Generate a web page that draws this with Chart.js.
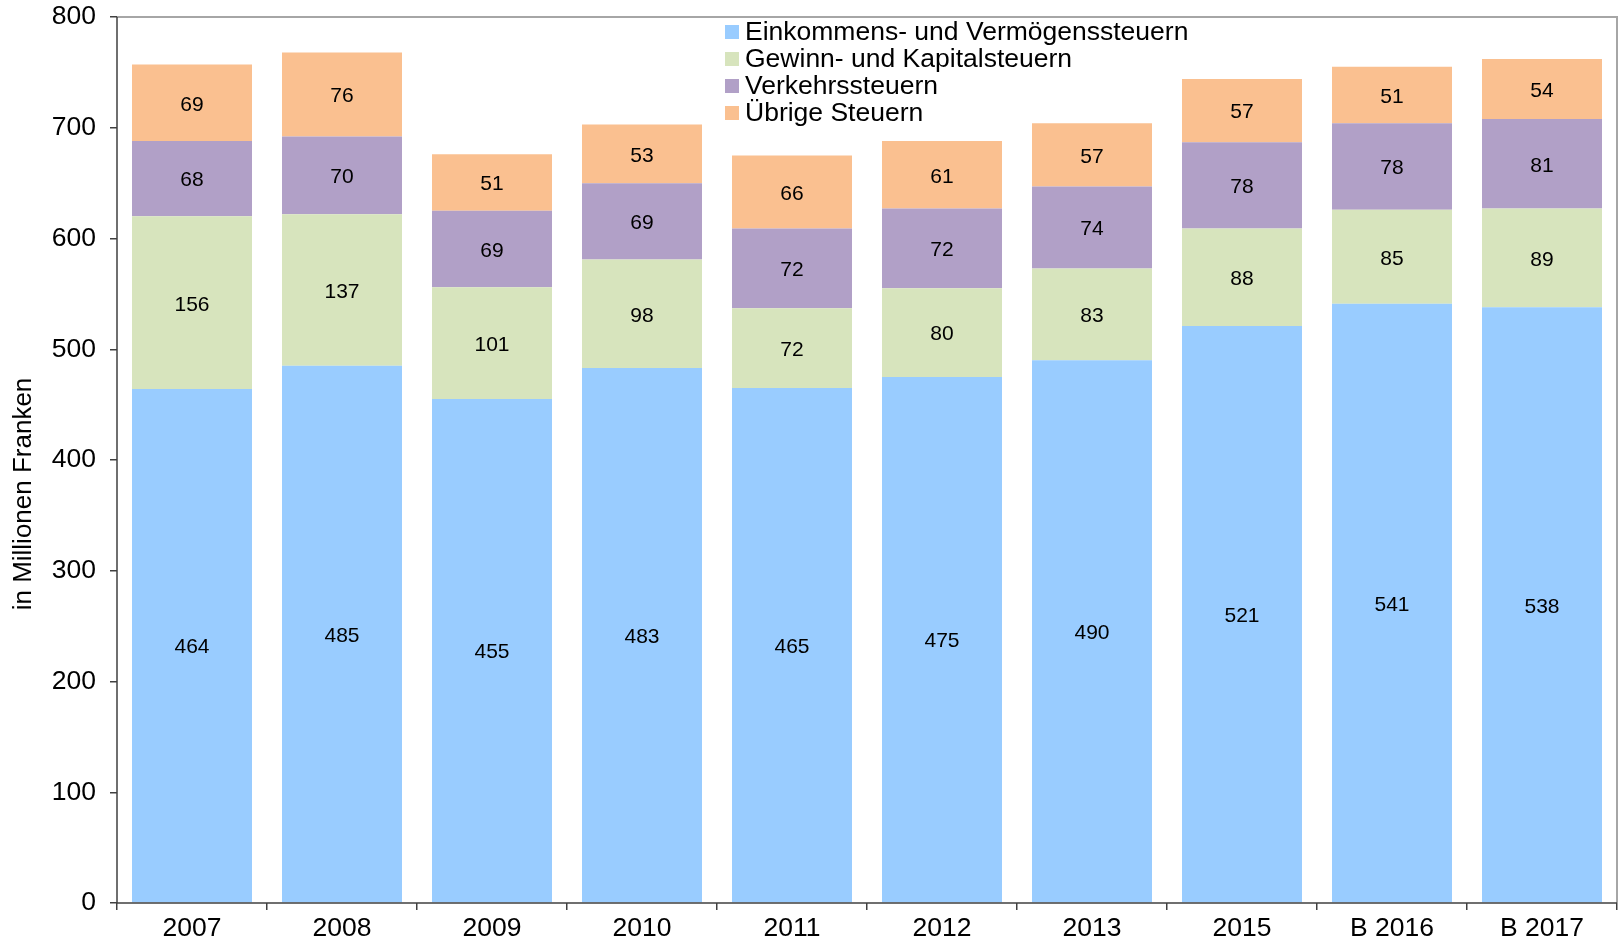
<!DOCTYPE html>
<html>
<head>
<meta charset="utf-8">
<script src="https://cdn.jsdelivr.net/npm/chart.js@4.4.1/dist/chart.umd.min.js"></script>
<style>
html,body{margin:0;padding:0;background:#fff;}
#wrap{width:1619px;height:939px;position:relative;}
</style>
</head>
<body>
<div id="wrap"><canvas id="c" width="1619" height="939"></canvas></div>
<script>
const categories = ['2007','2008','2009','2010','2011','2012','2013','2015','B 2016','B 2017'];
const einkommen = [464,485,455,483,465,475,490,521,541,538];
const gewinn    = [156,137,101,98,72,80,83,88,85,89];
const verkehr   = [68,70,69,69,72,72,74,78,78,81];
const uebrige   = [69,76,51,53,66,61,57,57,51,54];
const seriesNames = ['Einkommens- und Vermögenssteuern','Gewinn- und Kapitalsteuern','Verkehrssteuern','Übrige Steuern'];
const seriesColors = ['#99CCFF','#D7E4BD','#B1A0C7','#FAC090'];
const yTicks = [0,100,200,300,400,500,600,700,800];
const yTitle = 'in Millionen Franken';

const FONT = "'Liberation Sans', Arial, sans-serif";

const datasets = [einkommen,gewinn,verkehr,uebrige].map((d,i)=>({
  label: seriesNames[i],
  data: d,
  backgroundColor: seriesColors[i],
  borderWidth: 0,
  barPercentage: 0.8,
  categoryPercentage: 1.0
}));

const framePlugin = {
  id: 'frame',
  beforeDatasetsDraw(chart){
    const {ctx, chartArea:a} = chart;
    ctx.save();
    ctx.strokeStyle = '#A6A6A6';
    ctx.lineWidth = 2;
    ctx.beginPath();
    ctx.moveTo(a.left, a.top);
    ctx.lineTo(a.right, a.top);
    ctx.lineTo(a.right, a.bottom);
    ctx.stroke();
    ctx.restore();
  },
  afterDatasetsDraw(chart){
    const {ctx, chartArea:a} = chart;
    ctx.save();
    // data labels
    ctx.font = '21px ' + FONT;
    ctx.fillStyle = '#000';
    ctx.textAlign = 'center';
    ctx.textBaseline = 'middle';
    chart.data.datasets.forEach((ds,i)=>{
      const meta = chart.getDatasetMeta(i);
      meta.data.forEach((bar,j)=>{
        const y = (bar.y + bar.base)/2 + 2;
        ctx.fillText(String(ds.data[j]), bar.x, y);
      });
    });
    // axes lines
    ctx.strokeStyle = '#404040';
    ctx.lineWidth = 1.5;
    ctx.beginPath();
    ctx.moveTo(a.left, a.top);
    ctx.lineTo(a.left, a.bottom);
    ctx.lineTo(a.right, a.bottom);
    ctx.stroke();
    // y axis title
    ctx.save();
    ctx.font = '26px ' + FONT;
    ctx.fillStyle = '#000';
    ctx.textAlign = 'center';
    ctx.textBaseline = 'middle';
    ctx.translate(24, 494);
    ctx.rotate(-Math.PI/2);
    ctx.fillText(yTitle, 0, 0);
    ctx.restore();
    // legend
    ctx.font = '26.5px ' + FONT;
    ctx.textAlign = 'left';
    ctx.textBaseline = 'middle';
    const x0 = 725, y0 = 32, step = 27;
    chart.data.datasets.forEach((ds,i)=>{
      const y = y0 + i*step;
      ctx.fillStyle = ds.backgroundColor;
      ctx.fillRect(x0, y-7, 14, 14);
      ctx.fillStyle = '#000';
      ctx.fillText(ds.label, x0+20, y+1);
    });
    ctx.restore();
  }
};

new Chart(document.getElementById('c'), {
  type: 'bar',
  data: { labels: categories, datasets },
  options: {
    responsive: false,
    animation: false,
    layout: { padding: { top: 17, right: 2, left: 0, bottom: 0 } },
    plugins: { legend: { display: false }, tooltip: { enabled: false } },
    scales: {
      x: {
        stacked: true,
        offset: true,
        grid: { display: true, drawOnChartArea: false, drawTicks: true, tickLength: 7, color: '#404040', lineWidth: 1.5, offset: true },
        border: { display: false },
        ticks: { color: '#000', font: { family: FONT, size: 26.5 }, padding: 3, maxRotation: 0 },
        afterFit(s){ s.height = 36; s.paddingLeft = 0; s.paddingRight = 0; }
      },
      y: {
        stacked: true,
        min: 0, max: 800,
        afterBuildTicks(s){ s.ticks = yTicks.map(v=>({value:v})); },
        grid: { display: true, drawOnChartArea: false, drawTicks: true, tickLength: 7, color: '#404040', lineWidth: 1.5 },
        border: { display: false },
        ticks: { color: '#000', font: { family: FONT, size: 26.5 }, padding: 14 },
        title: { display: false },
        afterFit(s){ s.width = 117; s.paddingTop = 0; s.paddingBottom = 0; }
      }
    }
  },
  plugins: [framePlugin]
});
</script>
</body>
</html>
